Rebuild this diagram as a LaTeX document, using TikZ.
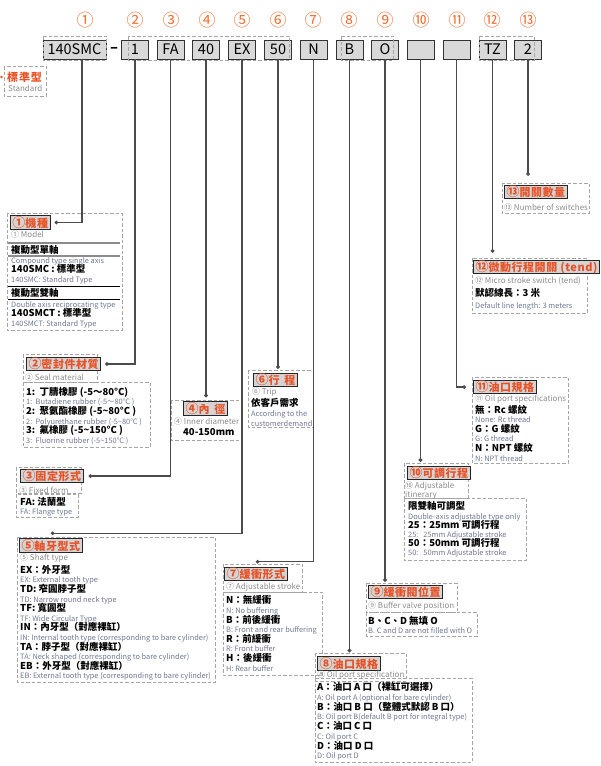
\documentclass[tikz,border=0pt]{standalone}
\usepackage{fontspec}
\setmainfont{Noto Sans CJK TC}
\usetikzlibrary{arrows.meta, positioning, calc}
\definecolor{numorange}{RGB}{240,112,52}
\definecolor{tagred}{RGB}{232,82,38}
\definecolor{capgray}{RGB}{140,140,140}
\definecolor{notegray}{RGB}{112,120,148}
\newcommand{\entxt}[1]{{\fontsize{7.4}{9.6}\selectfont\mdseries\color{notegray}#1}}
\newcommand{\cn}[1]{{\fontsize{13}{11}\selectfont#1}}

\begin{document}
\begin{tikzpicture}[
    x=1pt, y=-1pt,
    num/.style={text=numorange, inner sep=0pt, font=\fontsize{17}{17}\selectfont},
    codebox/.style={draw=black!80, line width=0.9pt, fill=black!15, minimum width=27pt, minimum height=19pt, inner sep=0pt, font=\fontsize{14.5}{14.5}\selectfont},
    frame/.style={draw=black!35, line width=0.8pt, dash pattern=on 3.5pt off 2pt},
    tag/.style={draw=black!85, line width=1pt, fill=black!17, text=tagred, anchor=west, inner xsep=2pt, inner ysep=0pt, minimum height=13.5pt, font={\fontsize{11}{11}\selectfont\bfseries\addfontfeature{LetterSpace=5}}},
    capt/.style={anchor=west, inner sep=0pt, align=left, text=capgray, font=\fontsize{8}{9}\selectfont},
    body/.style={anchor=west, inner sep=0pt, align=left, font={\fontsize{9.5}{#1}\selectfont\bfseries\lineskiplimit=-20pt}},
    body/.default=9.6,
    rule/.style={draw=black!45, line width=1.4pt},
    lead/.style={draw=black!70, line width=1.2pt, -{Circle[length=3.6pt]}}
]
    \useasboundingbox (0,0) rectangle (600,766);

    % position numbers
    \node[num] (n1) at (85,20) {①};
    \node[num] (n2) at (135,20) {②};
    \node[num] (n3) at (171,20) {③};
    \node[num] (n4) at (207,20) {④};
    \node[num] (n5) at (242,20) {⑤};
    \node[num] (n6) at (278,20) {⑥};
    \node[num] (n7) at (313,20) {⑦};
    \node[num] (n8) at (349,20) {⑧};
    \node[num] (n9) at (385,20) {⑨};
    \node[num] (n10) at (421,20) {⑩};
    \node[num] (n11) at (457,20) {⑪};
    \node[num] (n12) at (492,20) {⑫};
    \node[num] (n13) at (528,20) {⑬};

    % model code
    \node[codebox, minimum width=63pt] (b1) at (74.5,49.5) {140SMC};
    \node[inner sep=0pt, font=\fontsize{14.5}{14.5}\selectfont\bfseries] (dash) at (114,49.5) {–};
    \node[codebox] (b2) at (135,49.5) {1};
    \node[codebox] (b3) at (170.5,49.5) {FA};
    \node[codebox] (b4) at (206,49.5) {40};
    \node[codebox] (b5) at (242,49.5) {EX};
    \node[codebox] (b6) at (278,49.5) {50};
    \node[codebox] (b7) at (313.5,49.5) {N};
    \node[codebox] (b8) at (349.5,49.5) {B};
    \node[codebox] (b9) at (385,49.5) {O};
    \node[codebox] (b10) at (420.5,49.5) {};
    \node[codebox] (b11) at (456.5,49.5) {};
    \node[codebox] (b12) at (492.5,49.5) {TZ};
    \node[codebox] (b13) at (528,49.5) {2};
    \draw[frame] (43,36) rectangle (106,60);
    \draw[frame] (128,36) rectangle (289,60);
    \draw[frame] (341,36) rectangle (393,60);
    \draw[frame] (479,36) rectangle (534,60);

    % standard
    \draw[frame] (4,66) rectangle (46,96);
    \fill[tagred] (1.5,77) circle (1.4pt);
    \node[anchor=west, inner sep=0pt, text=tagred, font={\fontsize{11}{11}\selectfont\bfseries\addfontfeature{LetterSpace=8}}] (std) at (7,77) {標準型};
    \node[capt] (stdcap) at (8,88) {Standard};

    % 1 model
    \draw[frame] (7,213) rectangle (122,330);
    \node[tag] (l1) at (10,222.5) {\cn{①}機種};
    \node[capt] (cap1) at (11,234) {① Model};
    \draw[rule] (8,243) -- (120,243);
    \node[body] (t1a) at (11,250) {複動型單軸};
    \draw[rule] (8,256) -- (120,256);
    \node[body=9.5] (t1b) at (11,270.5) {\entxt{Compound type single axis}\\140SMC : 標準型\\\entxt{140SMC: Standard Type}};
    \draw[rule, draw=black, line width=1pt] (8,286) -- (120,286);
    \node[body] (t1c) at (11,293) {複動型雙軸};
    \draw[rule, draw=black, line width=1pt] (8,299) -- (120,299);
    \node[body=9.5] (t1d) at (11,314.5) {\entxt{Double axis reciprocating type}\\140SMCT : 標準型\\\entxt{140SMCT: Standard Type}};

    % 2 seal
    \draw[frame] (23,354) rectangle (97,382);
    \draw[frame] (23,382) rectangle (150,447);
    \node[tag] (l2) at (26,364) {\cn{②}密封件材質};
    \node[capt] (cap2) at (25,377) {② Seal material};
    \node[body] (t2) at (26,416) {1:\ \ 丁腈橡膠 (-5～80°C)\\\entxt{1:\ \ Butadiene rubber (-5～80°C )}\\2:\ \ 聚氨酯橡膠 (-5\textasciitilde80°C )\\\entxt{2:\ \ Polyurethane rubber (-5\textasciitilde80°C )}\\3:\ \ 氟橡膠 (-5\textasciitilde150°C )\\\entxt{3:\ \ Fluorine rubber (-5\textasciitilde150°C )}};

    % 3 fixed form
    \draw[frame] (16,467) rectangle (81,493);
    \draw[frame] (16,494) rectangle (78,517);
    \node[tag] (l3) at (20,476) {\cn{③}固定形式};
    \node[capt] (cap3) at (19,490) {③ Fixed form};
    \node[body] (t3) at (20,507) {FA: 法蘭型\\\entxt{FA: Flange type}};

    % 4 bore
    \draw[frame] (171,400) rectangle (242,440);
    \node[tag] (l4) at (183,408.5) {\cn{④}內\hspace{5pt}徑};
    \node[capt] (cap4) at (174,421) {④ Inner diameter};
    \node[body] (t4) at (183,432) {40-150mm};

    % 5 shaft
    \draw[frame] (17,537) rectangle (215,682);
    \node[tag] (l5) at (19,545.5) {\cn{⑤}軸牙型式};
    \node[capt] (cap5) at (20,558) {⑤ Shaft type};
    \node[body] (t5) at (20,623) {EX：外牙型\\\entxt{EX: External tooth type}\\TD: 窄圓脖子型\\\entxt{TD: Narrow round neck type}\\TF: 寬圓型\\\entxt{TF: Wide Circular Type}\\IN：內牙型（對應裸缸）\\\entxt{IN: Internal tooth type (corresponding to bare cylinder)}\\TA：脖子型（對應裸缸）\\\entxt{TA: Neck shaped (corresponding to bare cylinder)}\\EB：外牙型（對應裸缸）\\\entxt{EB: External tooth type (corresponding to bare cylinder)}};

    % 6 stroke
    \draw[frame] (248,370) rectangle (313,427);
    \node[tag] (l6) at (253,380) {\cn{⑥}行\hspace{5pt}程};
    \node[capt] (cap6) at (252,392) {⑥ Trip};
    \node[body=10] (t6) at (251,412) {依客戶需求\\\entxt{According to the}\\\entxt{customerdemand}};

    % 7 cushion
    \draw[frame] (223,564) rectangle (302,592);
    \draw[frame] (223,592) rectangle (322,675);
    \node[tag] (l7) at (224,574) {\cn{⑦}緩衝形式};
    \node[capt] (cap7) at (226,587) {⑦ Adjustable stroke};
    \node[body] (t7) at (226,633.5) {N：無緩衝\\\entxt{N: No buffering}\\B：前後緩衝\\\entxt{B: Front and rear buffering}\\R：前緩衝\\\entxt{R: Front buffer}\\H：後緩衝\\\entxt{H: Rear buffer}};

    % 8 oil port
    \draw[frame] (315,653) rectangle (406,681);
    \draw[frame] (315,678) rectangle (472,762);
    \node[tag] (l8) at (317,663.5) {\cn{⑧}油口規格};
    \node[capt] (cap8) at (317,675) {⑧ Oil port specification};
    \node[body=9.7] (t8) at (317,721.5) {A：油口 A 口（裸缸可選擇）\\\entxt{A: Oil port A (optional for bare cylinder)}\\B：油口 B 口（整體式默認 B 口）\\\entxt{B: Oil port B(default B port for integral type)}\\C：油口 C 口\\\entxt{C: Oil port C}\\D：油口 D 口\\\entxt{D: Oil port D}};

    % 9 valve
    \draw[frame] (366,583) rectangle (457,612);
    \draw[frame] (366,612) rectangle (477,636);
    \node[tag] (l9) at (368,592) {\cn{⑨}緩衝閥位置};
    \node[capt] (cap9) at (368,606) {⑨ Buffer valve position};
    \node[body] (t9) at (368,625) {B、C、D 無填 O\\\entxt{B. C and D are not filled with O}};

    % 10 adjustable
    \draw[frame] (404,463) rectangle (468,498);
    \draw[frame] (404,498) rectangle (526,560);
    \node[tag] (l10) at (407,473) {\cn{⑩}可調行程};
    \node[capt] (cap10) at (405,491) {⑩ Adjustable\\itinerary};
    \node[body=9.1] (t10) at (408,529.5) {限雙軸可調型\\\entxt{Double-axis adjustable type only}\\25：25mm 可調行程\\\entxt{25:\ \ \ 25mm Adjustable stroke}\\50：50mm 可調行程\\\entxt{50:\ \ \ 50mm Adjustable stroke}};

    % 11 thread
    \draw[frame] (472,377) rectangle (568,463);
    \node[tag] (l11) at (473,387) {\cn{⑪}油口規格};
    \node[capt] (cap11) at (475,399) {⑪ Oil port specifications};
    \node[body] (t11) at (475,433) {無：Rc 螺紋\\\entxt{None: Rc thread}\\G：G 螺紋\\\entxt{G: G thread}\\N：NPT 螺紋\\\entxt{N: NPT thread}};

    % 12 switch
    \draw[frame] (472,258) rectangle (587,313);
    \node[tag] (l12) at (473,267) {\cn{⑫}微動行程開關 (tend)};
    \node[capt] (cap12) at (475,281) {⑫ Micro stroke switch (tend)};
    \node[body=12] (t12) at (475,299) {默認線長：3 米\\\entxt{Default line length: 3 meters}};

    % 13 count
    \draw[frame] (502,183) rectangle (589,213);
    \node[tag] (l13) at (504,192) {\cn{⑬}開關數量};
    \node[capt] (cap13) at (504,207) {⑬ Number of switches};

    \draw[lead] ([xshift=7.5pt]b1.south) |- ([xshift=4pt]l1.east);
    \draw[lead] (b2.south) |- ([xshift=4pt]l2.east);
    \draw[lead] (b3.south) |- ([xshift=5pt]l3.east);
    \draw[lead] (b4.south) -- ([yshift=4pt]b4.south |- l4.north);
    \draw[lead] (b5.south) |- ([yshift=5pt]l5.north);
    \draw[lead] (b6.south) -- ([yshift=4pt]b6.south |- l6.north);
    \draw[lead] (b7.south) |- ([yshift=5pt]l7.north);
    \draw[lead] (b8.south) -- ([yshift=4pt]b8.south |- l8.north);
    \draw[lead] (b9.south) -- ([yshift=3pt]b9.south |- l9.north);
    \draw[lead] (b10.south) -- ([yshift=4pt]b10.south |- l10.north);
    \draw[lead] (b11.south) |- ([xshift=-7pt]l11.west);
    \draw[lead] (b12.south) -- ([yshift=7pt]b12.south |- l12.north);
    \draw[lead] (b13.south) -- ([yshift=9pt]b13.south |- l13.north);
\end{tikzpicture}
\end{document}
